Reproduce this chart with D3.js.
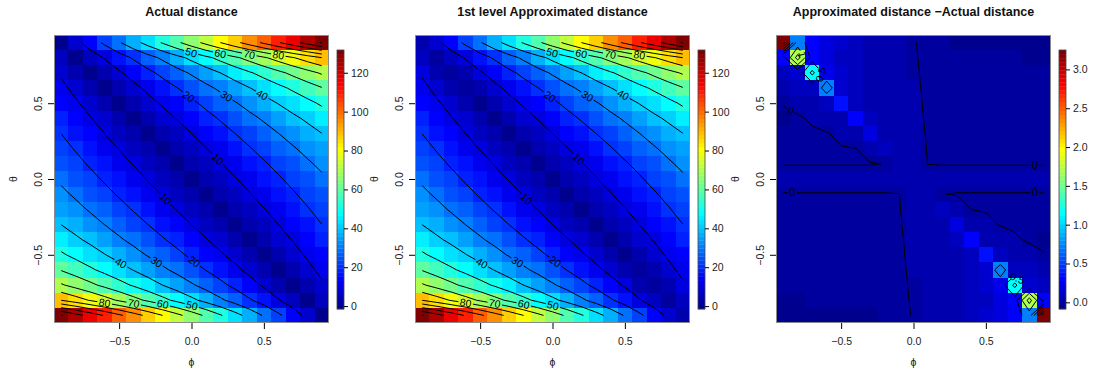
<!DOCTYPE html>
<html>
<head>
<meta charset="utf-8">
<script src="https://cdn.jsdelivr.net/npm/d3@7"></script>
<style>
  body { margin: 0; background: #fff; }
</style>
</head>
<body>
<svg id="chart" width="1097" height="374"></svg>
<script>
// ---- data ----
// cell centres (theta rows listed top to bottom)
const phiVals = [-0.9, -0.8, -0.7, -0.6, -0.5, -0.4, -0.3, -0.2, -0.1, 0, 0.1, 0.2, 0.3, 0.4, 0.5, 0.6, 0.7, 0.8, 0.9];
const thetaVals = [0.9, 0.8, 0.7, 0.6, 0.5, 0.4, 0.3, 0.2, 0.1, 0, -0.1, -0.2, -0.3, -0.4, -0.5, -0.6, -0.7, -0.8, -0.9];

// actual distance, one row per theta value
const actualDist = [
  [0, 7.3, 14.6, 21.8, 29.1, 36.4, 43.7, 50.9, 58.2, 65.5, 72.8, 80.05, 87.3, 94.6, 101.9, 109.2, 116.4, 123.7, 131.0],
  [5.3, 0, 5.3, 10.6, 15.9, 21.1, 26.4, 31.7, 37.0, 42.3, 47.6, 52.9, 58.2, 63.4, 68.7, 74.0, 79.3, 84.6, 89.9],
  [8.9, 4.4, 0, 4.4, 8.9, 13.3, 17.8, 22.2, 26.7, 31.1, 35.5, 39.98, 44.4, 48.9, 53.3, 57.7, 62.2, 66.6, 71.1],
  [11.9, 7.9, 4.0, 0, 4.0, 7.9, 11.9, 15.9, 19.8, 23.8, 27.8, 31.7, 35.7, 39.7, 43.6, 47.6, 51.5, 55.5, 59.5],
  [14.7, 11.0, 7.3, 3.7, 0, 3.7, 7.3, 11.0, 14.7, 18.3, 22.0, 25.6, 29.3, 33.0, 36.6, 40.3, 44.0, 47.6, 51.3],
  [17.3, 13.8, 10.4, 6.9, 3.5, 0, 3.5, 6.9, 10.4, 13.8, 17.3, 20.8, 24.2, 27.7, 31.1, 34.6, 38.1, 41.5, 45.0],
  [19.95, 16.6, 13.3, 9.98, 6.7, 3.3, 0, 3.3, 6.7, 9.98, 13.3, 16.6, 19.95, 23.3, 26.6, 29.9, 33.3, 36.6, 39.9],
  [22.7, 19.4, 16.2, 12.9, 9.7, 6.5, 3.2, 0, 3.2, 6.5, 9.7, 12.9, 16.2, 19.4, 22.7, 25.9, 29.1, 32.4, 35.6],
  [25.5, 22.3, 19.1, 15.9, 12.8, 9.6, 6.4, 3.2, 0, 3.2, 6.4, 9.6, 12.8, 15.9, 19.1, 22.3, 25.5, 28.7, 31.9],
  [28.5, 25.4, 22.2, 19.0, 15.9, 12.7, 9.5, 6.3, 3.2, 0, 3.2, 6.3, 9.5, 12.7, 15.9, 19.0, 22.2, 25.4, 28.5],
  [31.9, 28.7, 25.5, 22.3, 19.1, 15.9, 12.8, 9.6, 6.4, 3.2, 0, 3.2, 6.4, 9.6, 12.8, 15.9, 19.1, 22.3, 25.5],
  [35.6, 32.4, 29.1, 25.9, 22.7, 19.4, 16.2, 12.9, 9.7, 6.5, 3.2, 0, 3.2, 6.5, 9.7, 12.9, 16.2, 19.4, 22.7],
  [39.9, 36.6, 33.3, 29.9, 26.6, 23.3, 19.95, 16.6, 13.3, 9.98, 6.7, 3.3, 0, 3.3, 6.7, 9.98, 13.3, 16.6, 19.95],
  [45.0, 41.5, 38.1, 34.6, 31.1, 27.7, 24.2, 20.8, 17.3, 13.8, 10.4, 6.9, 3.5, 0, 3.5, 6.9, 10.4, 13.8, 17.3],
  [51.3, 47.6, 44.0, 40.3, 36.6, 33.0, 29.3, 25.6, 22.0, 18.3, 14.7, 11.0, 7.3, 3.7, 0, 3.7, 7.3, 11.0, 14.7],
  [59.5, 55.5, 51.5, 47.6, 43.6, 39.7, 35.7, 31.7, 27.8, 23.8, 19.8, 15.9, 11.9, 7.9, 4.0, 0, 4.0, 7.9, 11.9],
  [71.1, 66.6, 62.2, 57.7, 53.3, 48.9, 44.4, 39.98, 35.5, 31.1, 26.7, 22.2, 17.8, 13.3, 8.9, 4.4, 0, 4.4, 8.9],
  [89.9, 84.6, 79.3, 74.0, 68.7, 63.4, 58.2, 52.9, 47.6, 42.3, 37.0, 31.7, 26.4, 21.1, 15.9, 10.6, 5.3, 0, 5.3],
  [131.0, 123.7, 116.4, 109.2, 101.9, 94.6, 87.3, 80.05, 72.8, 65.5, 58.2, 50.9, 43.7, 36.4, 29.1, 21.8, 14.6, 7.3, 0]
];

// approximated minus actual distance
const distDiff = [
  [3.25, 0.70, 0.30, 0.20, 0.15, 0.10, 0.07, 0.05, 0.04, 0.005, -0.02, -0.02, -0.05, -0.05, -0.05, -0.05, -0.05, -0.06, -0.086],
  [0.32, 1.72, 0.28, 0.18, 0.12, 0.09, 0.06, 0.05, 0.04, 0.01, -0.023, -0.02, -0.02, -0.02, -0.02, -0.02, -0.02, -0.045, -0.045],
  [0.10, 0.14, 1.14, 0.24, 0.14, 0.08, 0.06, 0.05, 0.04, 0.015, -0.022, -0.015, -0.015, -0.015, -0.015, -0.015, -0.015, -0.015, -0.015],
  [0.04, 0.09, 0.12, 0.72, 0.16, 0.09, 0.06, 0.05, 0.04, 0.02, -0.02, -0.012, -0.012, -0.012, -0.012, -0.012, -0.012, -0.012, -0.012],
  [0.01, 0.06, 0.07, 0.10, 0.36, 0.10, 0.06, 0.05, 0.04, 0.02, -0.013, -0.01, -0.01, -0.01, -0.01, -0.01, -0.01, -0.01, -0.01],
  [-0.04, -0.02, 0.02, 0.045, 0.06, 0.30, 0.08, 0.05, 0.04, 0.02, -0.009, -0.01, -0.01, -0.01, -0.01, -0.01, -0.01, -0.01, -0.01],
  [-0.03, -0.03, -0.02, -0.005, 0.02, 0.05, 0.20, 0.06, 0.04, 0.02, -0.005, -0.01, -0.01, -0.01, -0.01, -0.01, -0.01, -0.01, -0.01],
  [-0.02, -0.02, -0.02, -0.015, -0.005, -0.001, 0.03, 0.12, 0.04, 0.025, -0.003, -0.008, -0.008, -0.008, -0.008, -0.008, -0.008, -0.008, -0.008],
  [-0.003, -0.003, -0.003, -0.003, -0.003, -0.003, -0.003, 0.001, 0.04, 0.03, -0.001, -0.003, -0.003, -0.003, -0.003, -0.003, -0.003, -0.003, -0.003],
  [0.03, 0.03, 0.03, 0.03, 0.03, 0.03, 0.03, 0.03, 0.03, 0.04, 0.03, 0.03, 0.03, 0.03, 0.03, 0.03, 0.03, 0.03, 0.03],
  [-0.003, -0.003, -0.003, -0.003, -0.003, -0.003, -0.003, -0.003, -0.001, 0.03, 0.04, 0.001, -0.003, -0.003, -0.003, -0.003, -0.003, -0.003, -0.003],
  [-0.008, -0.008, -0.008, -0.008, -0.008, -0.008, -0.008, -0.008, -0.003, 0.025, 0.04, 0.12, 0.03, -0.001, -0.005, -0.015, -0.02, -0.02, -0.02],
  [-0.01, -0.01, -0.01, -0.01, -0.01, -0.01, -0.01, -0.01, -0.005, 0.02, 0.04, 0.06, 0.20, 0.05, 0.02, -0.005, -0.02, -0.03, -0.03],
  [-0.01, -0.01, -0.01, -0.01, -0.01, -0.01, -0.01, -0.01, -0.009, 0.02, 0.04, 0.05, 0.08, 0.30, 0.06, 0.045, 0.02, -0.02, -0.04],
  [-0.01, -0.01, -0.01, -0.01, -0.01, -0.01, -0.01, -0.01, -0.013, 0.02, 0.04, 0.05, 0.06, 0.10, 0.36, 0.10, 0.07, 0.06, 0.01],
  [-0.012, -0.012, -0.012, -0.012, -0.012, -0.012, -0.012, -0.012, -0.02, 0.02, 0.04, 0.05, 0.06, 0.09, 0.16, 0.72, 0.12, 0.09, 0.04],
  [-0.015, -0.015, -0.015, -0.015, -0.015, -0.015, -0.015, -0.015, -0.022, 0.015, 0.04, 0.05, 0.06, 0.08, 0.14, 0.24, 1.14, 0.14, 0.10],
  [-0.045, -0.045, -0.02, -0.02, -0.02, -0.02, -0.02, -0.02, -0.023, 0.01, 0.04, 0.05, 0.06, 0.09, 0.12, 0.18, 0.28, 1.72, 0.32],
  [-0.086, -0.06, -0.05, -0.05, -0.05, -0.05, -0.05, -0.02, -0.02, 0.005, 0.04, 0.05, 0.07, 0.10, 0.15, 0.20, 0.30, 0.70, 3.25]
];

// approximated = actual + difference
const approxDist = actualDist.map((row, i) => row.map((v, j) => v + distDiff[i][j]));

const panelTitles = ["Actual distance", "1st level Approximated distance", "Approximated distance \u2212Actual distance"];
const distZlim = [-1.5, 131.7];
const diffZlim = [-0.086, 3.25];
const distLevels = [10, 20, 30, 40, 50, 60, 70, 80, 90, 100, 110, 120, 130];
const diffLevels = [0, 0.5, 1, 1.5, 2, 2.5, 3];
const axisTicks = [-0.5, 0, 0.5];
const distBarTicks = [0, 20, 40, 60, 80, 100, 120];
const diffBarTicks = [0, 0.5, 1, 1.5, 2, 2.5, 3];
const xLabel = "\u03d5";
const yLabel = "\u03b8";

// ---- layout ----
const fontFamily = '"Liberation Sans", Arial, Helvetica, sans-serif';
const panelLeft = [54, 415, 776];
const plotW = 275, plotTop = 35, plotH = 288;
const barDx = 283, barW = 7, barTop = 50, barBottom = 309;
const labelFont = 10.5;

// tim.colors(64), the fields::image.plot default palette
const timColors = d3.range(64).map(i => {
  let r, g, b;
  if (i < 8) { r = 0; g = 0; b = 0x8F + 0x10 * i; }
  else if (i < 24) { r = 0; g = Math.min(255, 0x10 * (i - 7)); b = 255; }
  else if (i < 40) { r = Math.min(255, 0x10 * (i - 23)); g = 255; b = Math.max(0, 255 - 0x10 * (i - 23)); }
  else if (i < 56) { r = 255; g = Math.max(0, 255 - 0x10 * (i - 39)); b = 0; }
  else { r = 0xFF - 0x10 * (i - 55); g = 0; b = 0; }
  return d3.rgb(r, g, b).formatHex();
});

const svg = d3.select("#chart");

// marching squares on the cell-centre grid, returns polylines in (phi, theta)
function traceIsolines(z, level) {
  const nr = z.length, nc = z[0].length;
  const pos = new Map();
  const segs = [];
  const edge = (key, r1, c1, r2, c2) => {
    if (!pos.has(key)) {
      const a = z[r1][c1], b = z[r2][c2];
      const t = (level - a) / (b - a);
      pos.set(key, [phiVals[c1] + t * (phiVals[c2] - phiVals[c1]),
                    thetaVals[r1] + t * (thetaVals[r2] - thetaVals[r1])]);
    }
    return key;
  };
  for (let r = 0; r < nr - 1; r++) {
    for (let c = 0; c < nc - 1; c++) {
      const code = (z[r][c] > level ? 8 : 0) | (z[r][c + 1] > level ? 4 : 0) |
                   (z[r + 1][c + 1] > level ? 2 : 0) | (z[r + 1][c] > level ? 1 : 0);
      if (code === 0 || code === 15) continue;
      const T = () => edge(`h${r}_${c}`, r, c, r, c + 1);
      const B = () => edge(`h${r + 1}_${c}`, r + 1, c, r + 1, c + 1);
      const L = () => edge(`v${r}_${c}`, r, c, r + 1, c);
      const R = () => edge(`v${r}_${c + 1}`, r, c + 1, r + 1, c + 1);
      switch (code) {
        case 1: case 14: segs.push([L(), B()]); break;
        case 2: case 13: segs.push([B(), R()]); break;
        case 3: case 12: segs.push([L(), R()]); break;
        case 4: case 11: segs.push([T(), R()]); break;
        case 6: case 9: segs.push([T(), B()]); break;
        case 7: case 8: segs.push([L(), T()]); break;
        case 5: segs.push([T(), R()], [L(), B()]); break;
        case 10: segs.push([L(), T()], [B(), R()]); break;
      }
    }
  }
  // chain the segments into polylines
  const adj = new Map();
  segs.forEach((s, i) => s.forEach(k => {
    if (!adj.has(k)) adj.set(k, []);
    adj.get(k).push(i);
  }));
  const used = new Array(segs.length).fill(false);
  const walk = (seg, key) => {
    const keys = [key];
    while (seg !== undefined && !used[seg]) {
      used[seg] = true;
      key = segs[seg][0] === key ? segs[seg][1] : segs[seg][0];
      keys.push(key);
      seg = adj.get(key).find(j => !used[j]);
    }
    return keys.map(k => pos.get(k));
  };
  const lines = [];
  for (const [k, list] of adj) if (list.length === 1 && !used[list[0]]) lines.push(walk(list[0], k));
  segs.forEach((s, i) => { if (!used[i]) lines.push(walk(i, s[0])); });
  return lines;
}

// bilinear value of the grid at (phi, theta)
function gridValue(z, phi, theta) {
  const step = phiVals[1] - phiVals[0];
  const fc = Math.max(0, Math.min(phiVals.length - 1.001, (phi - phiVals[0]) / step));
  const fr = Math.max(0, Math.min(thetaVals.length - 1.001, (thetaVals[0] - theta) / step));
  const c = Math.floor(fc), r = Math.floor(fr), tc = fc - c, tr = fr - r;
  const top = z[r][c] * (1 - tc) + z[r][c + 1] * tc;
  const bot = z[r + 1][c] * (1 - tc) + z[r + 1][c + 1] * tc;
  return top * (1 - tr) + bot * tr;
}

function cumLength(pts) {
  const cum = [0];
  for (let i = 1; i < pts.length; i++)
    cum.push(cum[i - 1] + Math.hypot(pts[i][0] - pts[i - 1][0], pts[i][1] - pts[i - 1][1]));
  return cum;
}

function pointAt(pts, cum, s) {
  let i = 1;
  while (i < cum.length - 1 && cum[i] < s) i++;
  const seg = (cum[i] - cum[i - 1]) || 1;
  const t = Math.max(0, Math.min(1, (s - cum[i - 1]) / seg));
  return [pts[i - 1][0] + t * (pts[i][0] - pts[i - 1][0]), pts[i - 1][1] + t * (pts[i][1] - pts[i - 1][1])];
}

function subPath(pts, cum, s0, s1) {
  const out = [pointAt(pts, cum, s0)];
  for (let i = 0; i < pts.length; i++) if (cum[i] > s0 && cum[i] < s1) out.push(pts[i]);
  out.push(pointAt(pts, cum, s1));
  return out;
}

function samplePts(pts, step) {
  const out = [];
  for (let i = 1; i < pts.length; i++) {
    const [x0, y0] = pts[i - 1], [x1, y1] = pts[i];
    const n = Math.max(1, Math.ceil(Math.hypot(x1 - x0, y1 - y0) / step));
    for (let k = 0; k < n; k++) out.push([x0 + (x1 - x0) * k / n, y0 + (y1 - y0) * k / n]);
  }
  out.push(pts[pts.length - 1]);
  return out;
}

// flattest stretch of the contour (starting at a vertex) that leaves room for the label,
// with a mild preference for the start of the line
function findLabelSpot(pts, w, h, others, placed, box) {
  const cum = cumLength(pts);
  const len = cum[cum.length - 1];
  if (len < 3 * w) return null;
  const span = 2 * w + 6;
  let best = null;
  for (let i = 0; i < pts.length - 1; i++) {
    if (cum[i] + span > len) break;
    const a = pts[i], b = pointAt(pts, cum, cum[i] + span);
    const dx = b[0] - a[0], dy = b[1] - a[1], d = Math.hypot(dx, dy) || 1;
    let dev = 0;
    for (let k = i + 1; k < pts.length && cum[k] < cum[i] + span; k++)
      dev = Math.max(dev, Math.abs((pts[k][0] - a[0]) * dy - (pts[k][1] - a[1]) * dx) / d);
    const score = dev + 0.35 * cum[i] / len;
    if (best && score >= best.score - 1e-9) continue;
    const mid = cum[i] + span / 2;
    const [cx, cy] = pointAt(pts, cum, mid);
    const ux = dx / d, uy = dy / d;
    const hw = Math.abs(ux) * w / 2 + Math.abs(uy) * h / 2;
    const hh = Math.abs(uy) * w / 2 + Math.abs(ux) * h / 2;
    if (cx - hw < box.x0 || cx + hw > box.x1 || cy - hh < box.y0 || cy + hh > box.y1) continue;
    // keep clear of neighbouring contour lines
    let above = Infinity, below = Infinity;
    for (const p of others) {
      const rx = p[0] - cx, ry = p[1] - cy;
      if (Math.abs(rx) > w || Math.abs(ry) > w) continue;
      if (Math.abs(rx * ux + ry * uy) > w / 2 + 1) continue;
      const v = -rx * uy + ry * ux;
      if (v >= 0) below = Math.min(below, v); else above = Math.min(above, -v);
    }
    if (Math.min(above, below) < 2.5 || (above < h / 2 && below < h / 2)) continue;
    if (placed.some(q => Math.abs(q.cx - cx) < (q.hw + hw) && Math.abs(q.cy - cy) < (q.hh + hh))) continue;
    let ang = Math.atan2(dy, dx) * 180 / Math.PI;
    if (ang > 90) ang -= 180;
    if (ang < -90) ang += 180;
    best = { score, s0: mid - w / 2 - 1.5, s1: mid + w / 2 + 1.5, cx, cy, hw, hh, ang, cum, len };
  }
  return best;
}

function textWidth(txt) {
  const t = svg.append("text").attr("font-size", labelFont).attr("font-family", fontFamily).text(txt);
  const w = t.node().getComputedTextLength();
  t.remove();
  return w;
}

const panels = [
  { title: panelTitles[0], z: actualDist, zlim: distZlim, levels: distLevels, barTicks: distBarTicks, barFmt: d3.format("d"), levelFmt: d3.format("d") },
  { title: panelTitles[1], z: approxDist, zlim: distZlim, levels: distLevels, barTicks: distBarTicks, barFmt: d3.format("d"), levelFmt: d3.format("d") },
  { title: panelTitles[2], z: distDiff, zlim: diffZlim, levels: diffLevels, barTicks: diffBarTicks, barFmt: d3.format(".1f"), levelFmt: v => String(v) }
];

panels.forEach((p, pi) => {
  const x0 = panelLeft[pi];
  const g = svg.append("g");

  const xs = d3.scaleLinear().domain([-0.95, 0.95]).range([x0, x0 + plotW]);
  const ys = d3.scaleLinear().domain([-0.95, 0.95]).range([plotTop + plotH, plotTop]);
  const color = d3.scaleQuantize().domain(p.zlim).range(timColors);

  const halfX = Math.abs(phiVals[1] - phiVals[0]) / 2;
  const halfY = Math.abs(thetaVals[1] - thetaVals[0]) / 2;

  // heat map cells
  const cells = [];
  p.z.forEach((row, r) => row.forEach((v, c) => cells.push({ phi: phiVals[c], theta: thetaVals[r], v })));
  g.append("g").selectAll("rect").data(cells).join("rect")
    .attr("x", d => xs(d.phi - halfX))
    .attr("y", d => ys(d.theta + halfY))
    .attr("width", d => xs(d.phi + halfX) - xs(d.phi - halfX))
    .attr("height", d => ys(d.theta - halfY) - ys(d.theta + halfY))
    .attr("fill", d => color(d.v))
    .attr("shape-rendering", "crispEdges");

  // contour lines, each oriented with higher values on its left
  const lines = [];
  p.levels.forEach(lv => {
    traceIsolines(p.z, lv).forEach(pts => {
      if (pts.length < 2) return;
      let px = pts.map(q => [xs(q[0]), ys(q[1])]);
      const m = Math.floor((px.length - 1) / 2);
      const a = px[m], b = px[m + 1];
      const dx = b[0] - a[0], dy = b[1] - a[1], d = Math.hypot(dx, dy) || 1;
      const qx = (a[0] + b[0]) / 2 + 1.5 * dy / d, qy = (a[1] + b[1]) / 2 - 1.5 * dx / d;
      if (gridValue(p.z, xs.invert(qx), ys.invert(qy)) < lv) px = px.reverse();
      lines.push({ level: lv, pts: px });
    });
  });
  lines.forEach(ln => { ln.samples = samplePts(ln.pts, 1.5); });

  const box = { x0: x0, x1: x0 + plotW, y0: plotTop, y1: plotTop + plotH };
  const placed = [];
  const labelH = 10;
  lines.forEach((ln, i) => {
    ln.text = p.levelFmt(ln.level);
    const w = textWidth(ln.text);
    const others = [];
    lines.forEach((o, j) => { if (j !== i) others.push(...o.samples); });
    ln.label = findLabelSpot(ln.pts, w, labelH, others, placed, box);
    if (ln.label) placed.push(ln.label);
  });

  const lineGen = d3.line();
  const contourG = g.append("g").attr("fill", "none").attr("stroke", "#000").attr("stroke-width", 1);
  lines.forEach(ln => {
    let pieces = [ln.pts];
    if (ln.label) {
      const { s0, s1, cum, len } = ln.label;
      pieces = [];
      if (s0 > 0) pieces.push(subPath(ln.pts, cum, 0, s0));
      if (s1 < len) pieces.push(subPath(ln.pts, cum, s1, len));
    }
    pieces.forEach(pc => contourG.append("path").attr("d", lineGen(pc)));
  });

  g.append("g").selectAll("text").data(lines.filter(ln => ln.label)).join("text")
    .attr("transform", d => `translate(${d.label.cx},${d.label.cy}) rotate(${d.label.ang})`)
    .attr("text-anchor", "middle")
    .attr("dy", "0.35em")
    .attr("font-size", labelFont)
    .attr("font-family", fontFamily)
    .attr("fill", "#000")
    .text(d => d.text);

  // frame
  g.append("rect")
    .attr("x", x0 + 0.5).attr("y", plotTop + 0.5)
    .attr("width", plotW - 1).attr("height", plotH - 1)
    .attr("fill", "none").attr("stroke", "#8a8a8a").attr("stroke-width", 1);

  // axes
  const xAxisG = g.append("g")
    .attr("transform", `translate(0,${plotTop + plotH})`)
    .call(d3.axisBottom(xs).tickValues(axisTicks).tickSize(6).tickFormat(d3.format(".1f")));
  xAxisG.select(".domain").remove();
  xAxisG.attr("font-size", 10.5).attr("font-family", fontFamily);
  xAxisG.selectAll(".tick text").attr("y", 21.5).attr("dy", 0).attr("fill", "#222");

  const yAxisG = g.append("g")
    .attr("transform", `translate(${x0},0)`)
    .call(d3.axisLeft(ys).tickValues(axisTicks).tickSize(6).tickFormat(d3.format(".1f")));
  yAxisG.select(".domain").remove();
  yAxisG.attr("font-size", 10.5).attr("font-family", fontFamily);
  yAxisG.selectAll(".tick text")
    .attr("x", 0).attr("dy", 0).attr("text-anchor", "middle").attr("fill", "#222")
    .attr("transform", "translate(-12.5,0) rotate(-90)");

  // axis titles and panel title
  g.append("text")
    .attr("x", x0 + plotW / 2).attr("y", 366)
    .attr("text-anchor", "middle").attr("font-size", 10.5).attr("font-family", fontFamily)
    .attr("fill", "#222").text(xLabel);
  g.append("text")
    .attr("transform", `translate(${x0 - 37.5},${plotTop + plotH / 2}) rotate(-90)`)
    .attr("text-anchor", "middle").attr("font-size", 10.5).attr("font-family", fontFamily)
    .attr("fill", "#222").text(yLabel);
  g.append("text")
    .attr("x", x0 + plotW / 2).attr("y", 16)
    .attr("text-anchor", "middle").attr("font-size", 12.5).attr("font-weight", "bold")
    .attr("font-family", fontFamily).attr("fill", "#111").text(p.title);

  // colour bar
  const bx = x0 + barDx;
  const cs = d3.scaleLinear().domain(p.zlim).range([barBottom, barTop]);
  const dz = (p.zlim[1] - p.zlim[0]) / timColors.length;
  const bins = timColors.map((col, i) => ({ lo: p.zlim[0] + i * dz, hi: p.zlim[0] + (i + 1) * dz, col }));
  g.append("g").selectAll("rect").data(bins).join("rect")
    .attr("x", bx).attr("width", barW)
    .attr("y", d => cs(d.hi)).attr("height", d => cs(d.lo) - cs(d.hi) + 0.3)
    .attr("fill", d => d.col);
  g.append("rect")
    .attr("x", bx).attr("y", barTop).attr("width", barW).attr("height", barBottom - barTop)
    .attr("fill", "none").attr("stroke", "#444").attr("stroke-width", 0.8);
  const barAxisG = g.append("g")
    .attr("transform", `translate(${bx + barW},0)`)
    .call(d3.axisRight(cs).tickValues(p.barTicks).tickSize(4).tickPadding(3).tickFormat(p.barFmt));
  barAxisG.select(".domain").remove();
  barAxisG.attr("font-size", 10.5).attr("font-family", fontFamily);
  barAxisG.selectAll(".tick text").attr("fill", "#222");
});
</script>
</body>
</html>
